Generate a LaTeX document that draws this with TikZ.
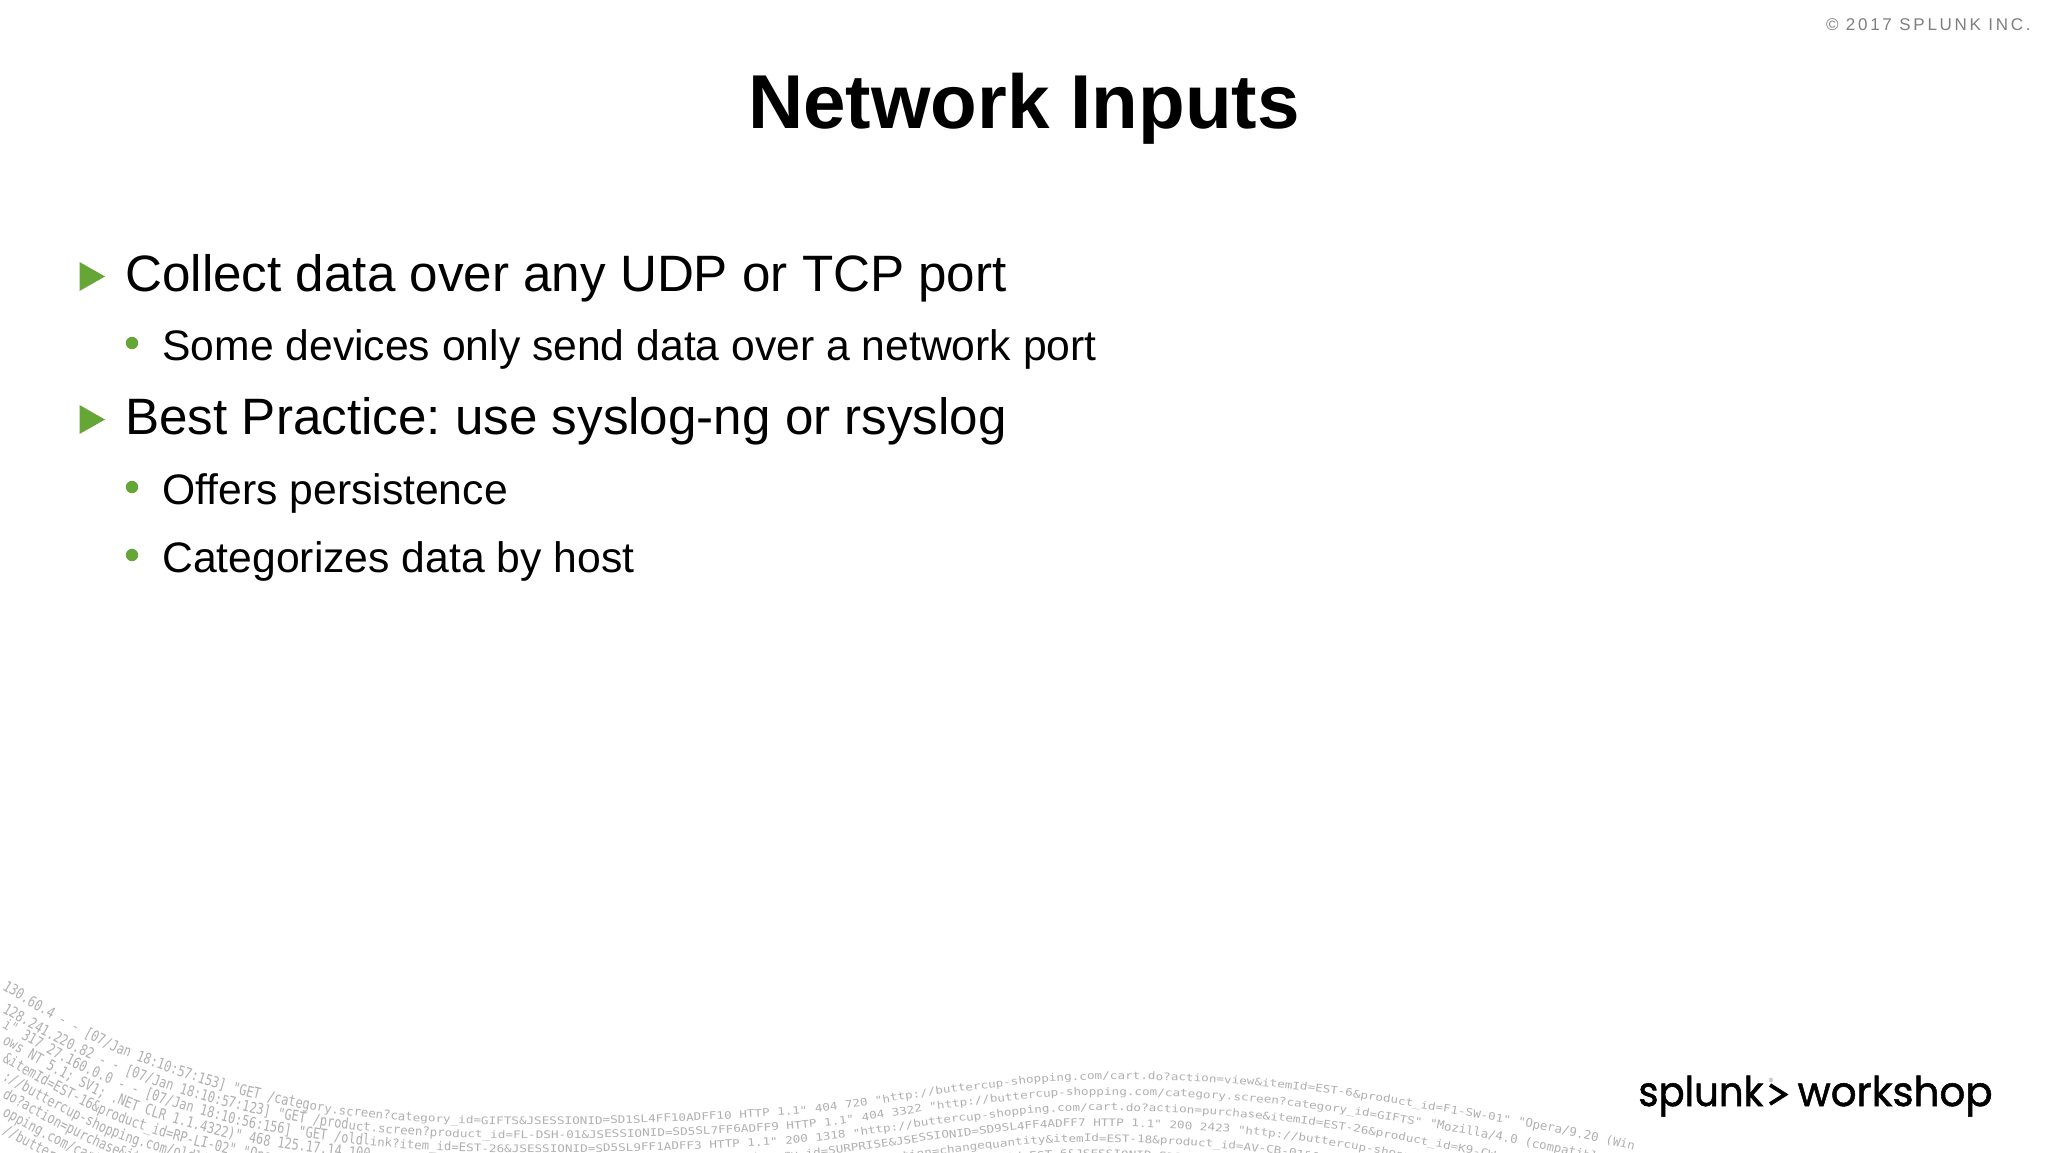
\documentclass[tikz,border=0pt]{standalone}
\usepackage{fontspec}
\usepackage{graphicx}
\setmainfont{Liberation Sans}
\frenchspacing
\newfontfamily\monotall[FakeStretch=0.80]{DejaVu Sans Mono}
\newfontfamily\monomid[FakeStretch=1.03]{DejaVu Sans Mono}
\newfontfamily\monof[FakeStretch=1.215]{DejaVu Sans Mono}
\newfontfamily\logof[FakeBold=1.3]{Poppins}
\newfontfamily\spaced[LetterSpace=16]{Liberation Sans}
\usetikzlibrary{decorations.text}
\definecolor{spgreen}{HTML}{65A637}
\definecolor{logc}{HTML}{B0B0B0}
\definecolor{copyc}{HTML}{7F7F7F}
\newcommand\fsL{\fontsize{7.5}{8}\monotall}
\newcommand\fsM{\fontsize{6}{6.5}\monomid}
\newcommand\fsN{\fontsize{5.2}{6}\monof}
\begingroup
\catcode`\&=12 \catcode`\_=12
\gdef\rowa{|\fsL|130.60.4 - - [07/Jan 18:10:57:153] "GET /categ||%
|\fsM|ory.screen?cat||%
|\fsN|egory_id=GIFTS&JSESSIONID=SD1SL4FF10ADFF10 HTTP 1.1" 404 720 "http://buttercup-shopping.com/cart.do?action=view&itemId=EST-6&product_id=F1-SW-01" ||%
|\fsM|"Opera/9.20 (Win ||}
\gdef\rowb{|\fsL|128.241.220.82 - - [07/Jan 18:10:57:123] "GET /prod||%
|\fsM|uct.screen?pr||%
|\fsN|oduct_id=FL-DSH-01&JSESSIONID=SD5SL7FF6ADFF9 HTTP 1.1" 404 3322 "http://buttercup-shopping.com/category.screen?category_id=GIFTS" ||%
|\fsM|"Mozilla/4.0 (compatible; ||}
\gdef\rowc{|\fsL|i" 317 27.160.0.0 - - [07/Jan 18:10:56:156] "GET /oldl||%
|\fsM|ink?item_id=E||%
|\fsN|ST-26&JSESSIONID=SD5SL9FF1ADFF3 HTTP 1.1" 200 1318 "http://buttercup-shopping.com/cart.do?action=purchase&itemId=EST-26&product_id=K9-CW-01" ||%
|\fsM|"Mozilla/4.0 (compat ||}
\gdef\rowd{|\fsL|ows NT 5.1; SV1; .NET CLR 1.1.4322)" 468 125.17.14.100 ||%
|\fsM|- - [07/Jan 18:10:55:189] ||%
|\fsN|"GET /category.screen?category_id=SURPRISE&JSESSIONID=SD9SL4FF4ADFF7 HTTP 1.1" 200 2423 "http://buttercup-shopping.com/cart.do?action=||%
|\fsM|changequantity&itemId=EST-18 ||}
\gdef\rowe{|\fsL|&itemId=EST-16&product_id=RP-LI-02" "Opera/9.01 ||%
|\fsM|(Windows NT 5.1) 468 125.17.14.100 - - [07/Jan 18:10:55:187] ||%
|\fsN|"GET /cart.do?action=changequantity&itemId=EST-18&product_id=AV-CB-01&JSESSIONID=SD5SL7FF6ADFF9 HTTP 1.1" 200 3865 ||%
|\fsM|"http://buttercup ||}
\gdef\rowf{|\fsL|://buttercup-shopping.com/oldlink?item_id=EST-27 ||%
|\fsM|"Mozilla/4.0 (compatible; MSIE 6.0) 200 1665 - - [07/Jan 18:10:55:141] ||%
|\fsN|"GET /oldlink?item_id=EST-6&JSESSIONID=SD10SL8FF2ADFF9 HTTP 1.1" 200 3865 "http://butter ||}
\gdef\rowg{|\fsL|do?action=purchase&itemId=EST-14&product_id=RP||%
|\fsM|-LI-02" "Mozilla/5.0 (Windows NT 6.1) 200 1665 - - [07/Jan 18:10:55:108] ||%
|\fsN|"GET /category.screen?category_id=FLOWERS&JSESSIONID=SD8SL8FF1ADFF6 HTTP 1.1" 200 ||}
\gdef\rowh{|\fsL|opping.com/cart.do?action=view&itemId=EST-15 ||}
\gdef\rowi{|\fsL|//buttercup-shopping.com/category.screen ||}
\endgroup
% one curved log line: #1 row number, #2 small lift of its left end, #3 its text
\newcommand\logrow[3]{%
  \path[decorate,decoration={text along path,text color=logc,text/.expand once=#3}]
    plot[smooth,tension=0.6] coordinates {
      (2,{989+#1*18+#2})
      (60,{1024+#1*17.5+#2*.6})
      (130,{1058+#1*17+#2*.3})
      (230,{1092+#1*15.5})
      (330,{1113+#1*14})
      (450,{1123+#1*14})
      (600,{1124+#1*14})
      (800,{1114+#1*14.5})
      (950,{1093+#1*15})
      (1080,{1080+#1*15.5})
      (1250,{1085+#1*16.5})
      (1420,{1108+#1*18})
      (1640,{1152+#1*20})
      (1900,{1230+#1*20})
      (2400,{1400+#1*20})
    };}
\begin{document}
\begin{tikzpicture}[x=0.5pt,y=-0.5pt,
  hd/.style={inner sep=0pt,anchor=base,font=\fontsize{38.2}{40}\selectfont\bfseries},
  lvone/.style={inner sep=0pt,anchor=base west,font=\fontsize{25.58}{28}\selectfont},
  lvtwo/.style={inner sep=0pt,anchor=base west,font=\fontsize{21.33}{24}\selectfont},
  tri/.style={fill=spgreen},
  dotm/.style={circle,fill=spgreen,inner sep=0pt,minimum size=6.2pt}]
\useasboundingbox (0,0) rectangle (2048,1152);
\clip (0,0) rectangle (2048,1152);
\fill[white] (0,0) rectangle (2048,1152);
\node[inner sep=0pt,anchor=base east,text=copyc] (copy) at (2031,30) {\fontsize{8.5}{10}\spaced © 2017 SPLUNK INC.};
\node[hd] (title) at (1024,128) {Network Inputs};
\fill[tri] (79.5,262) -- (105,276.5) -- (79.5,291) -- cycle;
\fill[tri] (79.5,405) -- (105,419.5) -- (79.5,434) -- cycle;
\node[lvone] (a) at (125,291) {Collect data over any UDP or TCP port};
\node[dotm] (b1) at (132,343) {};
\node[lvtwo] (b) at (162,360) {Some devices only send data over a network port};
\node[lvone] (c) at (125,434.5) {Best Practice: use syslog-ng or rsyslog};
\node[dotm] (d1) at (132,487) {};
\node[lvtwo] (d) at (162,504) {Offers persistence};
\node[dotm] (e1) at (132,555) {};
\node[lvtwo] (e) at (162,572) {Categorizes data by host};
\logrow{0}{0}{\rowa}
\logrow{1}{5}{\rowb}
\logrow{2}{2}{\rowc}
\logrow{3}{0}{\rowd}
\logrow{4}{0}{\rowe}
\logrow{5}{0}{\rowf}
\logrow{6}{0}{\rowg}
\logrow{7}{0}{\rowh}
\logrow{8}{0}{\rowi}
\node[inner sep=0pt,anchor=base west] (logoa) at (1638,1106) {\resizebox{62.5pt}{\height}{\fontsize{20.5}{22}\logof splunk}};
\coordinate (chevt) at (1770,1085);
\coordinate (chevm) at (1785,1094.5);
\coordinate (chevb) at (1770,1104);
\draw[line width=1.9pt,miter limit=10] (chevt) -- (chevm) -- (chevb);
\node[inner sep=0pt,text=gray] (reg) at (1771,1080) {\fontsize{3}{3}\selectfont ®};
\node[inner sep=0pt,anchor=base east] (logob) at (1993,1106) {\resizebox{97.5pt}{\height}{\fontsize{20.5}{22}\logof workshop}};
\end{tikzpicture}
\end{document}
